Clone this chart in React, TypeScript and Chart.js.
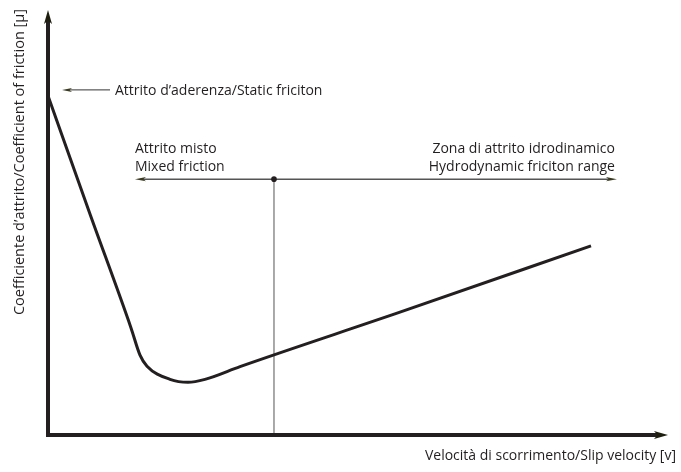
import React, { useEffect, useRef } from "react";
import { Chart, registerables } from "chart.js";

Chart.register(...registerables);

// Stribeck curve (arbitrary units): slip velocity vs coefficient of friction
const velocity = [0, 0.677, 1.339, 1.484, 1.597, 1.968, 2.258, 2.532, 3.097, 5.677, 8.758];
const friction = [0.798, 0.52, 0.252, 0.188, 0.162, 0.131, 0.124, 0.131, 0.161, 0.289, 0.445];

// Regime divider and range arrow
const dividerX = 3.645;
const rangeY = 0.602;
const rangeStart = 1.403;
const rangeEnd = 9.177;

// Static friction callout
const staticY = 0.812;
const staticTipX = 0.226;
const staticTailX = 1.0;

const xTitle = "Velocità di scorrimento/Slip velocity [v]";
const yTitle = "Coefficiente d\u2019attrito/Coefficient of friction [\u03bc]";
const staticLabel = "Attrito d\u2019aderenza/Static friciton";
const mixedLabels = ["Attrito misto", "Mixed friction"];
const hydroLabels = ["Zona di attrito idrodinamico", "Hydrodynamic friciton range"];

const INK = "#231f20";
const FONT = "'Open Sans', 'DejaVu Sans', sans-serif";

function arrowHead(ctx: CanvasRenderingContext2D, tipX: number, tipY: number, dx: number, dy: number, len: number, half: number, color: string) {
  const px = -dy, py = dx;
  ctx.beginPath();
  ctx.moveTo(tipX, tipY);
  ctx.lineTo(tipX - dx * len + px * half, tipY - dy * len + py * half);
  ctx.lineTo(tipX - dx * len * 0.75, tipY - dy * len * 0.75);
  ctx.lineTo(tipX - dx * len - px * half, tipY - dy * len - py * half);
  ctx.closePath();
  ctx.fillStyle = color;
  ctx.fill();
}

const decorPlugin = {
  id: "decor",
  afterDatasetsDraw(chart: any) {
    const ctx: CanvasRenderingContext2D = chart.ctx;
    const { left, right, top, bottom } = chart.chartArea;
    const xs = chart.scales.x;
    const ys = chart.scales.y;
    ctx.save();

    // range arrowheads + dot
    const ry = ys.getPixelForValue(rangeY);
    const rx0 = xs.getPixelForValue(rangeStart);
    const rx1 = xs.getPixelForValue(rangeEnd);
    arrowHead(ctx, rx0, ry, -1, 0, 11, 2.2, "#3a3a20");
    arrowHead(ctx, rx1, ry, 1, 0, 11, 2.2, "#3a3a20");
    ctx.beginPath();
    ctx.arc(xs.getPixelForValue(dividerX), ry, 2.8, 0, Math.PI * 2);
    ctx.fillStyle = INK;
    ctx.fill();

    // static friction callout
    const sy = ys.getPixelForValue(staticY);
    const sTip = xs.getPixelForValue(staticTipX);
    const sTail = xs.getPixelForValue(staticTailX);
    ctx.beginPath();
    ctx.moveTo(sTip + 6, sy);
    ctx.lineTo(sTail, sy);
    ctx.strokeStyle = "#333";
    ctx.lineWidth = 1;
    ctx.stroke();
    arrowHead(ctx, sTip, sy, -1, 0, 10, 2, "#3a3a20");

    // axes
    ctx.strokeStyle = INK;
    ctx.lineWidth = 4;
    ctx.lineCap = "butt";
    ctx.beginPath();
    ctx.moveTo(left, bottom + 2);
    ctx.lineTo(left, top + 10);
    ctx.stroke();
    ctx.beginPath();
    ctx.moveTo(left - 2, bottom);
    ctx.lineTo(right - 10, bottom);
    ctx.stroke();
    arrowHead(ctx, left, top, 0, -1, 14, 4, "#1e1e0e");
    arrowHead(ctx, right, bottom, 1, 0, 14, 4, "#1e1e0e");

    // texts
    ctx.fillStyle = INK;
    ctx.font = `14px ${FONT}`;
    ctx.textBaseline = "alphabetic";
    ctx.textAlign = "left";
    ctx.fillText(staticLabel, sTail + 5, sy + 5);
    ctx.fillText(mixedLabels[0], rx0, ry - 26);
    ctx.fillText(mixedLabels[1], rx0, ry - 8);
    ctx.textAlign = "right";
    ctx.fillText(hydroLabels[0], rx1 - 2, ry - 26);
    ctx.fillText(hydroLabels[1], rx1 - 2, ry - 8);

    ctx.font = `14px ${FONT}`;
    ctx.textAlign = "right";
    ctx.fillText(xTitle, 676, 460);

    ctx.font = `14.5px ${FONT}`;
    ctx.save();
    ctx.translate(24, 162);
    ctx.rotate(-Math.PI / 2);
    ctx.textAlign = "center";
    ctx.fillText(yTitle, 0, 0);
    ctx.restore();

    ctx.restore();
  },
};

export default function App() {
  const ref = useRef<HTMLCanvasElement | null>(null);

  useEffect(() => {
    if (!ref.current) return;
    const chart = new Chart(ref.current, {
      type: "line",
      data: {
        datasets: [
          {
            data: velocity.map((v, i) => ({ x: v, y: friction[i] })),
            borderColor: INK,
            borderWidth: 3,
            pointRadius: 0,
            cubicInterpolationMode: "monotone",
            fill: false,
          },
          {
            data: [
              { x: dividerX, y: 0 },
              { x: dividerX, y: rangeY },
            ],
            borderColor: "#555",
            borderWidth: 1,
            pointRadius: 0,
            tension: 0,
          },
          {
            data: [
              { x: rangeStart + 0.1, y: rangeY },
              { x: rangeEnd - 0.1, y: rangeY },
            ],
            borderColor: "#555",
            borderWidth: 1.5,
            pointRadius: 0,
            tension: 0,
          },
        ],
      },
      options: {
        animation: false,
        responsive: false,
        devicePixelRatio: 1,
        layout: { padding: { left: 48, right: 13, top: 10, bottom: 37 } },
        plugins: { legend: { display: false }, tooltip: { enabled: false } },
        scales: {
          x: { type: "linear", min: 0, max: 10, display: false },
          y: { type: "linear", min: 0, max: 1, display: false },
        },
      },
      plugins: [decorPlugin],
    } as any);
    return () => chart.destroy();
  }, []);

  return (
    <div style={{ position: "absolute", left: 0, top: 0, width: 681, height: 472, overflow: "hidden", background: "#fff" }}>
      <canvas ref={ref} width={681} height={472} style={{ display: "block" }} />
    </div>
  );
}
